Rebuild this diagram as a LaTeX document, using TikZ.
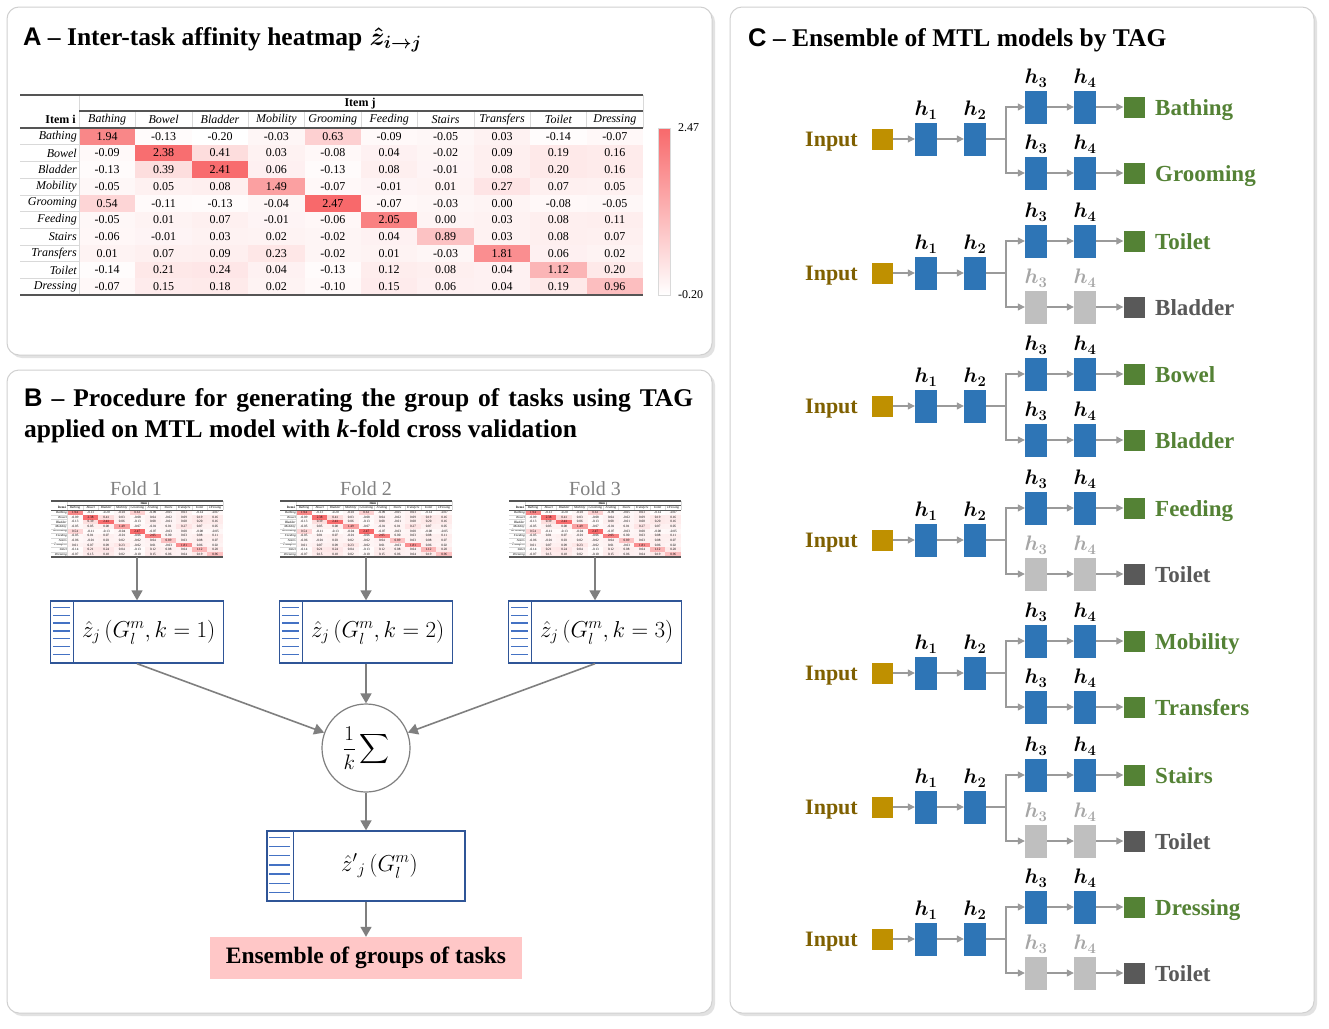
\RequirePackage{fix-cm}
\documentclass[tikz,border=0pt]{standalone}
\usepackage{exscale}
\usepackage{fontspec}
\setmainfont{Liberation Serif}
\setsansfont{Liberation Sans}
\usetikzlibrary{arrows.meta,calc}

\definecolor{hmred}{HTML}{F8696B}
\definecolor{pborder}{HTML}{D0D0D0}
\definecolor{pshadow}{HTML}{E2E2E2}
\definecolor{rulec}{HTML}{555555}
\definecolor{lightrule}{HTML}{D9D9D9}
\definecolor{bgray}{HTML}{7F7F7F}
\definecolor{bblue}{HTML}{2F5597}
\definecolor{sblue}{HTML}{4472C4}
\definecolor{pinkbox}{HTML}{FFC7C7}
\definecolor{inputc}{HTML}{7F6000}
\definecolor{inputsq}{HTML}{BF9000}
\definecolor{hblue}{HTML}{2E75B6}
\definecolor{ogreen}{HTML}{548235}
\definecolor{boxgray}{HTML}{BFBFBF}
\definecolor{outgray}{HTML}{595959}
\definecolor{hgray}{HTML}{A6A6A6}
\definecolor{cline}{HTML}{9A9A9A}
\definecolor{foldc}{HTML}{808080}

\newcommand\fs[1]{\fontsize{#1}{#1}\selectfont}

\newcommand\hmdata{{1.94,-0.13,-0.20,-0.03,0.63,-0.09,-0.05,0.03,-0.14,-0.07},
{-0.09,2.38,0.41,0.03,-0.08,0.04,-0.02,0.09,0.19,0.16},
{-0.13,0.39,2.41,0.06,-0.13,0.08,-0.01,0.08,0.20,0.16},
{-0.05,0.05,0.08,1.49,-0.07,-0.01,0.01,0.27,0.07,0.05},
{0.54,-0.11,-0.13,-0.04,2.47,-0.07,-0.03,0.00,-0.08,-0.05},
{-0.05,0.01,0.07,-0.01,-0.06,2.05,0.00,0.03,0.08,0.11},
{-0.06,-0.01,0.03,0.02,-0.02,0.04,0.89,0.03,0.08,0.07},
{0.01,0.07,0.09,0.23,-0.02,0.01,-0.03,1.81,0.06,0.02},
{-0.14,0.21,0.24,0.04,-0.13,0.12,0.08,0.04,1.12,0.20},
{-0.07,0.15,0.18,0.02,-0.10,0.15,0.06,0.04,0.19,0.96}}
\newcommand\hmnames{Bathing,Bowel,Bladder,Mobility,Grooming,Feeding,Stairs,Transfers,Toilet,Dressing}

% heatmap in local coordinates: 623 wide, 200 high, origin top-left
\newcommand\drawheatmap[1]{%
  \foreach \row [count=\i] in \hmdata {%
    \foreach \v [count=\j] in \row {%
      \pgfmathsetmacro\pc{max(0,min(100,(\v+0.2)/2.67*100))}%
      \fill[hmred!\pc!white] ({59+(\j-1)*56.4},{33+(\i-1)*16.7}) rectangle ++(56.4,16.7);
      \node[hmnum] (#1-\i-\j) at ({59+(\j-0.5)*56.4},{33+(\i-0.5)*16.7}) {\v};
    }%
  }%
  \foreach \n [count=\i] in \hmnames {%
    \node[hmlab, anchor=east] (#1-r\i) at (57,{33+(\i-0.5)*16.7}) {\n};
    \node[hmlab] (#1-c\i) at ({59+(\i-0.5)*56.4},24.5) {\n};
  }%
  \foreach \k in {1,...,9} {%
    \draw[lightrule, line width=0.6] (0,{33+\k*16.7}) -- (59,{33+\k*16.7});
    \draw[lightrule, line width=0.6] ({59+\k*56.4},17) -- ({59+\k*56.4},32);
  }%
  \draw[lightrule, line width=0.7] (59,0) -- (59,200);
  \draw[lightrule, line width=0.7] (623,0) -- (623,33);
  \node[hmbold, anchor=east] (#1-ii) at (56,24.5) {Item i};
  \node[hmbold] (#1-ij) at (340,8.5) {Item j};
  \draw[rulec, line width=1.6] (0,0) -- (623,0);
  \draw[rulec, line width=1.2] (59,16) -- (623,16);
  \draw[rulec, line width=1.2] (0,33) -- (623,33);
  \draw[rulec, line width=1.6] (0,200) -- (623,200);
}

% box with striped left strip: name, cx, cy, w, h, stripw, text
\newcommand\zbox[7]{%
  \node[zb, minimum width=#4, minimum height=#5] (#1) at (#2,#3) {};
  \draw[bblue, line width=1.3] ($(#1.north west)+(#6,0)$) -- ($(#1.south west)+(#6,0)$);
  \foreach \k in {0,...,6} {%
    \draw[sblue, line width=1.3] ($(#1.north west)+(3,{7+\k*(#5-15)/6})$) -- ++({#6-6},0);
  }%
  \node[ztext] (#1-t) at ($(#1.center)+({#6/2},0)$) {#7};
}

\begin{document}
\begin{tikzpicture}[x=1pt,y=-1pt,
  hmnum/.style={font=\fs{12}, inner sep=0},
  hmlab/.style={font=\fs{12}\itshape, inner sep=0},
  hmbold/.style={font=\fs{12}\bfseries, inner sep=0},
  panel/.style={draw=pborder, fill=white, line width=1, rounded corners=12},
  pshad/.style={fill=pshadow, rounded corners=12},
  ptitle/.style={font=\fs{25.5}\bfseries, anchor=base west, inner sep=0},
  foldlab/.style={font=\fs{20}, text=foldc, inner sep=0, anchor=base},
  zb/.style={draw=bblue, line width=1.3, fill=white, inner sep=0},
  ztext/.style={font=\fs{23}, inner sep=0},
  barr/.style={draw=bgray, line width=1.6, -{Triangle[length=10pt,width=11pt]}},
  inlab/.style={font=\fs{22}\bfseries, text=inputc, anchor=base east, inner sep=0},
  insq/.style={fill=inputsq, minimum size=21, inner sep=0},
  hb/.style={minimum width=22, minimum height=33, inner sep=0},
  osq/.style={minimum size=21, inner sep=0},
  olab/.style={font=\fs{23}\bfseries, anchor=base west, inner sep=0},
  hl/.style={font=\fs{21}\boldmath, anchor=south, inner sep=0, yshift=3},
  cl/.style={draw=cline, line width=1.1},
  carr/.style={cl, -{Triangle[length=7pt,width=7pt]}},
]
\useasboundingbox[fill=white] (0,0) rectangle (1329,1028);

% ---------- panels ----------
\fill[pshad] (10,10) rectangle (715,358);
\draw[panel] (7,7) rectangle (712,355);
\fill[pshad] (10,373) rectangle (715,1016);
\draw[panel] (7,370) rectangle (712,1013);
\fill[pshad] (733,10) rectangle (1317,1016);
\draw[panel] (730,7) rectangle (1314,1013);

% ---------- panel A ----------
\node[ptitle] (tA) at (23,45) {{\sffamily A} – Inter-task affinity heatmap};
\node[ptitle, font=\fs{25.5}\boldmath] (tAm) at ([xshift=7pt]tA.base east) {$\hat{z}_{i\rightarrow j}$};
\begin{scope}[shift={(20,95)}]
  \drawheatmap{hm}
\end{scope}
\shade[top color=hmred, bottom color=white] (658,128) rectangle (670,295);
\draw[lightrule, line width=0.6] (658,128) rectangle (670,295);
\node[hmnum, anchor=west] (cbmax) at (678,128) {2.47};
\node[hmnum, anchor=west] (cbmin) at (678,295) {-0.20};

% ---------- panel B ----------
\node[ptitle] (tB1) at (24,406) {\makebox[669pt][s]{{\sffamily B} – Procedure for generating the group of tasks using TAG}};
\node[ptitle] (tB2) at (24,437) {applied on MTL model with \textit{k}-fold cross validation};

\node[foldlab] (f1) at (136,495) {Fold 1};
\node[foldlab] (f2) at (366,495) {Fold 2};
\node[foldlab] (f3) at (595,495) {Fold 3};

\begin{scope}[shift={(51,501)}, xscale=0.2761, yscale=0.279, every node/.append style={transform shape}]
  \drawheatmap{ma}
\end{scope}
\begin{scope}[shift={(280,501)}, xscale=0.2761, yscale=0.279, every node/.append style={transform shape}]
  \drawheatmap{mb}
\end{scope}
\begin{scope}[shift={(509,501)}, xscale=0.2761, yscale=0.279, every node/.append style={transform shape}]
  \drawheatmap{mc}
\end{scope}
\node[minimum width=172, minimum height=56, inner sep=0] (mini1) at (137,529) {};
\node[minimum width=172, minimum height=56, inner sep=0] (mini2) at (366,529) {};
\node[minimum width=172, minimum height=56, inner sep=0] (mini3) at (595,529) {};

\zbox{box1}{137}{632}{173}{62}{23.5}{$\hat{z}_j\,(G_l^m, k=1)$}
\zbox{box2}{366}{632}{173}{62}{23.5}{$\hat{z}_j\,(G_l^m, k=2)$}
\zbox{box3}{595}{632}{173}{62}{23.5}{$\hat{z}_j\,(G_l^m, k=3)$}

\node[circle, draw=bgray, line width=1.2, fill=white, minimum size=88, inner sep=0, font=\fs{21}] (sum) at (366,748) {$\displaystyle\frac{1}{k}\sum$};

\zbox{fin}{366}{866}{198}{70}{27}{$\hat{z}'{}_j\,(G_l^m)$}

\node[fill=pinkbox, minimum width=312, minimum height=42, inner sep=0, font=\fs{23.5}\bfseries] (ens) at (366,958) {Ensemble of groups of tasks};

\draw[barr] (mini1.south) -- (box1.north);
\draw[barr] (mini2.south) -- (box2.north);
\draw[barr] (mini3.south) -- (box3.north);
\draw[barr] (box1.south) -- (sum);
\draw[barr] (box2.south) -- (sum);
\draw[barr] (box3.south) -- (sum);
\draw[barr] (sum) -- (fin);
\draw[barr] (fin) -- (ens);

% ---------- panel C ----------
\node[ptitle] (tC) at (748,46) {{\sffamily C} – Ensemble of MTL models by TAG};

\foreach \cy/\ta/\tb/\bc/\bo/\bh [count=\g] in {
  139/Bathing/Grooming/hblue/ogreen/black,
  273/Toilet/Bladder/boxgray/outgray/hgray,
  406/Bowel/Bladder/hblue/ogreen/black,
  540/Feeding/Toilet/boxgray/outgray/hgray,
  673/Mobility/Transfers/hblue/ogreen/black,
  807/Stairs/Toilet/boxgray/outgray/hgray,
  939/Dressing/Toilet/boxgray/outgray/hgray} {
  \pgfmathsetmacro\yt{\cy-32}
  \pgfmathsetmacro\yb{\cy+34}
  \node[inlab] (inl\g) at (858,{\cy+7.5}) {Input};
  \node[insq] (in\g) at (882,\cy) {};
  \node[hb, fill=hblue] (ha\g) at (926,\cy) {};
  \node[hb, fill=hblue] (hb\g) at (975,\cy) {};
  \node[hb, fill=hblue] (hc\g) at (1036,\yt) {};
  \node[hb, fill=hblue] (hd\g) at (1085,\yt) {};
  \node[hb, fill=\bc] (he\g) at (1036,\yb) {};
  \node[hb, fill=\bc] (hf\g) at (1085,\yb) {};
  \node[osq, fill=ogreen] (oa\g) at (1134,\yt) {};
  \node[osq, fill=\bo] (ob\g) at (1134,\yb) {};
  \node[olab, text=ogreen] (ola\g) at (1155,{\yt+8}) {\ta};
  \node[olab, text=\bo] (olb\g) at (1155,{\yb+8}) {\tb};
  \node[hl] (lha\g) at (ha\g.north) {$h_1$};
  \node[hl] (lhb\g) at (hb\g.north) {$h_2$};
  \node[hl] (lhc\g) at (hc\g.north) {$h_3$};
  \node[hl] (lhd\g) at (hd\g.north) {$h_4$};
  \node[hl, text=\bh] (lhe\g) at (he\g.north) {$h_3$};
  \node[hl, text=\bh] (lhf\g) at (hf\g.north) {$h_4$};
  \coordinate (j\g) at (1006,\cy);
  \draw[carr] (in\g) -- (ha\g);
  \draw[carr] (ha\g) -- (hb\g);
  \draw[cl] (hb\g.east) -- (j\g);
  \draw[carr] (j\g) |- (hc\g);
  \draw[carr] (j\g) |- (he\g);
  \draw[carr] (hc\g) -- (hd\g);
  \draw[carr] (he\g) -- (hf\g);
  \draw[carr] (hd\g) -- (oa\g);
  \draw[carr] (hf\g) -- (ob\g);
}
\end{tikzpicture}
\end{document}
